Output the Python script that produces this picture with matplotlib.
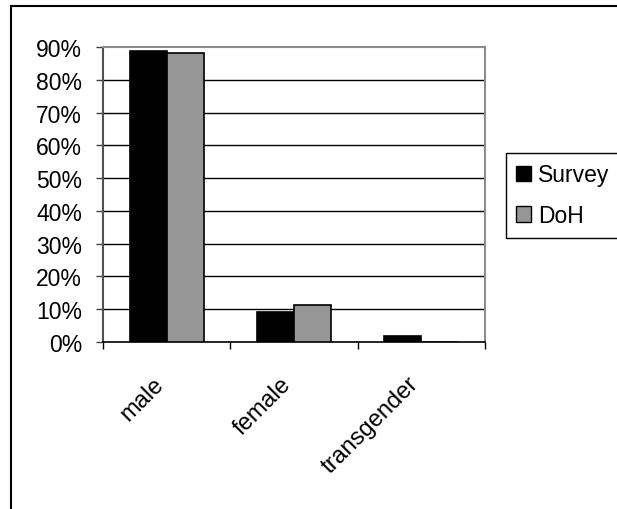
import matplotlib
matplotlib.use("Agg")
import matplotlib.pyplot as plt
import matplotlib.transforms as mtransforms
from matplotlib.lines import Line2D
from matplotlib.patches import Patch
import numpy as np

# Share of respondents by gender
categories = ["male", "female", "transgender"]
survey = [88.8, 9.2, 1.7]
doh = [88.1, 11.4, 0.0]
series_names = ["Survey", "DoH"]
y_ticks = [0, 10, 20, 30, 40, 50, 60, 70, 80, 90]
y_tick_labels = ["0%", "10%", "20%", "30%", "40%", "50%", "60%", "70%", "80%", "90%"]

plt.rcParams["font.family"] = ["Liberation Sans", "DejaVu Sans"]
FS = 16.5

W, H = 617, 510
fig = plt.figure(figsize=(W / 100, H / 100), dpi=100)
fig.patch.set_facecolor("white")

ax = fig.add_axes([103 / W, 1 - 343 / H, 382 / W, 295 / H])

x = np.arange(len(categories))
bw = 0.29
ax.bar(x - bw / 2, survey, width=bw, color="black", edgecolor="black",
       linewidth=1.2, zorder=3)
ax.bar(x + bw / 2, doh, width=bw, color="#969696", edgecolor="black",
       linewidth=1.2, zorder=3)

ax.set_xlim(-0.5, len(categories) - 0.5)
ax.set_ylim(0, 90)

# gridlines
for v in y_ticks[1:-1]:
    ax.axhline(v, color="black", linewidth=1.0, zorder=1)

ax.set_yticks(y_ticks)
ax.set_yticklabels(y_tick_labels, fontsize=FS)
ax.tick_params(axis="y", direction="out", length=5, width=1.0, color="#404040", pad=10)

ax.set_xticks(x)
ax.set_xticklabels(categories, fontsize=17, rotation=45, ha="right", va="top",
                   rotation_mode="anchor")
ax.tick_params(axis="x", which="major", length=0, pad=22)
ax.set_xticks(np.arange(-0.5, len(categories)), minor=True)
ax.tick_params(axis="x", which="minor", direction="out", length=5, width=1.0, color="black")
offset = mtransforms.ScaledTranslation(-14 / 100, 0, fig.dpi_scale_trans)
for lbl in ax.get_xticklabels():
    lbl.set_transform(lbl.get_transform() + offset)

for s in ["top", "right"]:
    ax.spines[s].set_color("#8c8c8c")
    ax.spines[s].set_linewidth(1.5)
ax.spines["left"].set_color("#505050")
ax.spines["left"].set_linewidth(1.5)
ax.spines["bottom"].set_color("black")
ax.spines["bottom"].set_linewidth(1.2)

# outer chart frame (top and left edges)
fig.add_artist(Line2D([11 / W, 11 / W], [0, 1 - 7 / H], transform=fig.transFigure,
                      color="black", linewidth=1.5))
fig.add_artist(Line2D([11 / W, 1], [1 - 7 / H, 1 - 7 / H], transform=fig.transFigure,
                      color="black", linewidth=1.5))

handles = [Patch(facecolor="black", edgecolor="black", linewidth=1.0),
           Patch(facecolor="#969696", edgecolor="black", linewidth=1.0)]
leg = fig.legend(handles, series_names, loc="upper left",
                 bbox_to_anchor=(506 / W, 1 - 154 / H), bbox_transform=fig.transFigure,
                 fontsize=FS, frameon=True, fancybox=False, framealpha=1,
                 edgecolor="black", borderaxespad=0, borderpad=0.45,
                 handlelength=0.65, handleheight=0.65, handletextpad=0.3,
                 labelspacing=0.78)
leg.get_frame().set_linewidth(1.0)

fig.savefig("out.png", dpi=100, facecolor="white")
